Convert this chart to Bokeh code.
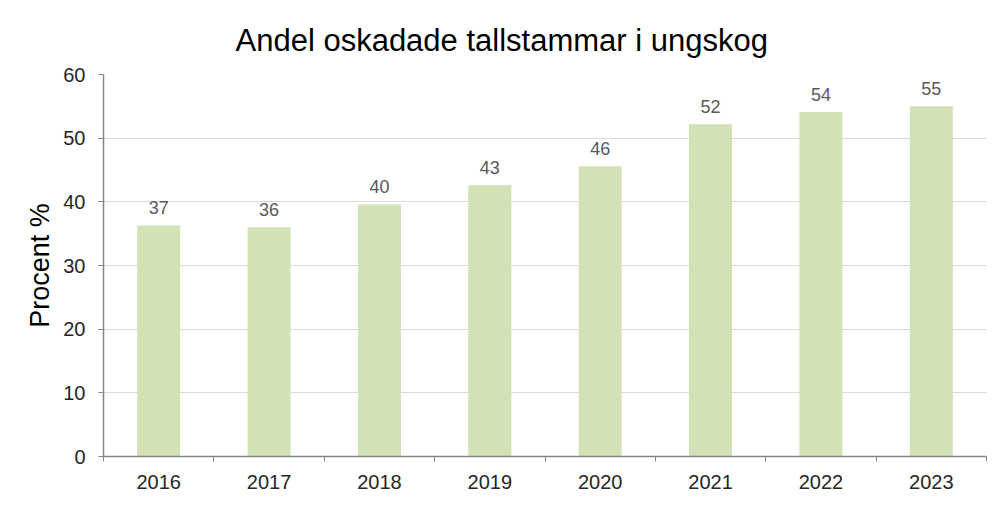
from bokeh.plotting import figure
from bokeh.models import ColumnDataSource, FixedTicker, Range1d, Title
from bokeh.core.properties import value
from bokeh.embed import file_html
from bokeh.resources import INLINE

# ---- data ----
years = ["2016", "2017", "2018", "2019", "2020", "2021", "2022", "2023"]
share = [36.3, 36.0, 39.6, 42.6, 45.6, 52.2, 54.1, 55.0]
labels = ["37", "36", "40", "43", "46", "52", "54", "55"]
title_text = "Andel oskadade tallstammar i ungskog"
y_label = "Procent %"
y_ticks = [0, 10, 20, 30, 40, 50, 60]

FONT = "Liberation Sans"

idx = list(range(len(years)))
src = ColumnDataSource(dict(x=idx, y=share, lab=labels))

p = figure(width=992, height=506, output_backend="svg", toolbar_location=None,
           x_range=Range1d(-0.5, len(years) - 0.5), y_range=Range1d(0, 60),
           min_border_left=103, min_border_right=6, min_border_top=74,
           min_border_bottom=50)
p.title = Title(text=title_text, align="left", text_font=FONT,
                text_font_size="31px", text_font_style="normal",
                text_color="#000000", standoff=34, offset=132)

p.vbar(x="x", top="y", width=0.39, source=src, fill_color="#d3e1b6",
       line_color=None)
p.text(x="x", y="y", text="lab", source=src, text_align="center",
       text_baseline="bottom", y_offset=-11, text_font=value(FONT),
       text_font_size="18px", text_color="#595959")

p.outline_line_color = None
p.background_fill_color = "white"
p.border_fill_color = "white"

p.xgrid.grid_line_color = None
p.ygrid.grid_line_color = "#d9d9d9"
p.ygrid.grid_line_width = 1

# x axis: labels at centers, ticks at category boundaries
xa = p.xaxis[0]
xa.ticker = FixedTicker(ticks=idx, minor_ticks=[i - 0.5 for i in range(len(years) + 1)])
xa.major_label_overrides = {i: y for i, y in enumerate(years)}
xa.major_tick_out = 0
xa.major_tick_in = 0
xa.minor_tick_in = 0
xa.minor_tick_out = 5
xa.minor_tick_line_color = "#868686"
xa.axis_line_color = "#868686"
xa.axis_line_width = 1.5
xa.major_label_text_font = FONT
xa.major_label_text_font_size = "20px"
xa.major_label_text_color = "#262626"
xa.major_label_standoff = 13

ya = p.yaxis[0]
ya.ticker = FixedTicker(ticks=y_ticks)
ya.minor_tick_line_color = None
ya.major_tick_out = 5
ya.major_tick_in = 0
ya.major_tick_line_color = "#868686"
ya.axis_line_color = "#868686"
ya.axis_line_width = 1.5
ya.major_label_text_font = FONT
ya.major_label_text_font_size = "20px"
ya.major_label_text_color = "#262626"
ya.major_label_standoff = 13
ya.axis_label = y_label
ya.axis_label_text_font = FONT
ya.axis_label_text_font_size = "27px"
ya.axis_label_text_font_style = "normal"
ya.axis_label_text_color = "#000000"
ya.axis_label_standoff = 5

open("out.html", "w").write(file_html(p, INLINE))
